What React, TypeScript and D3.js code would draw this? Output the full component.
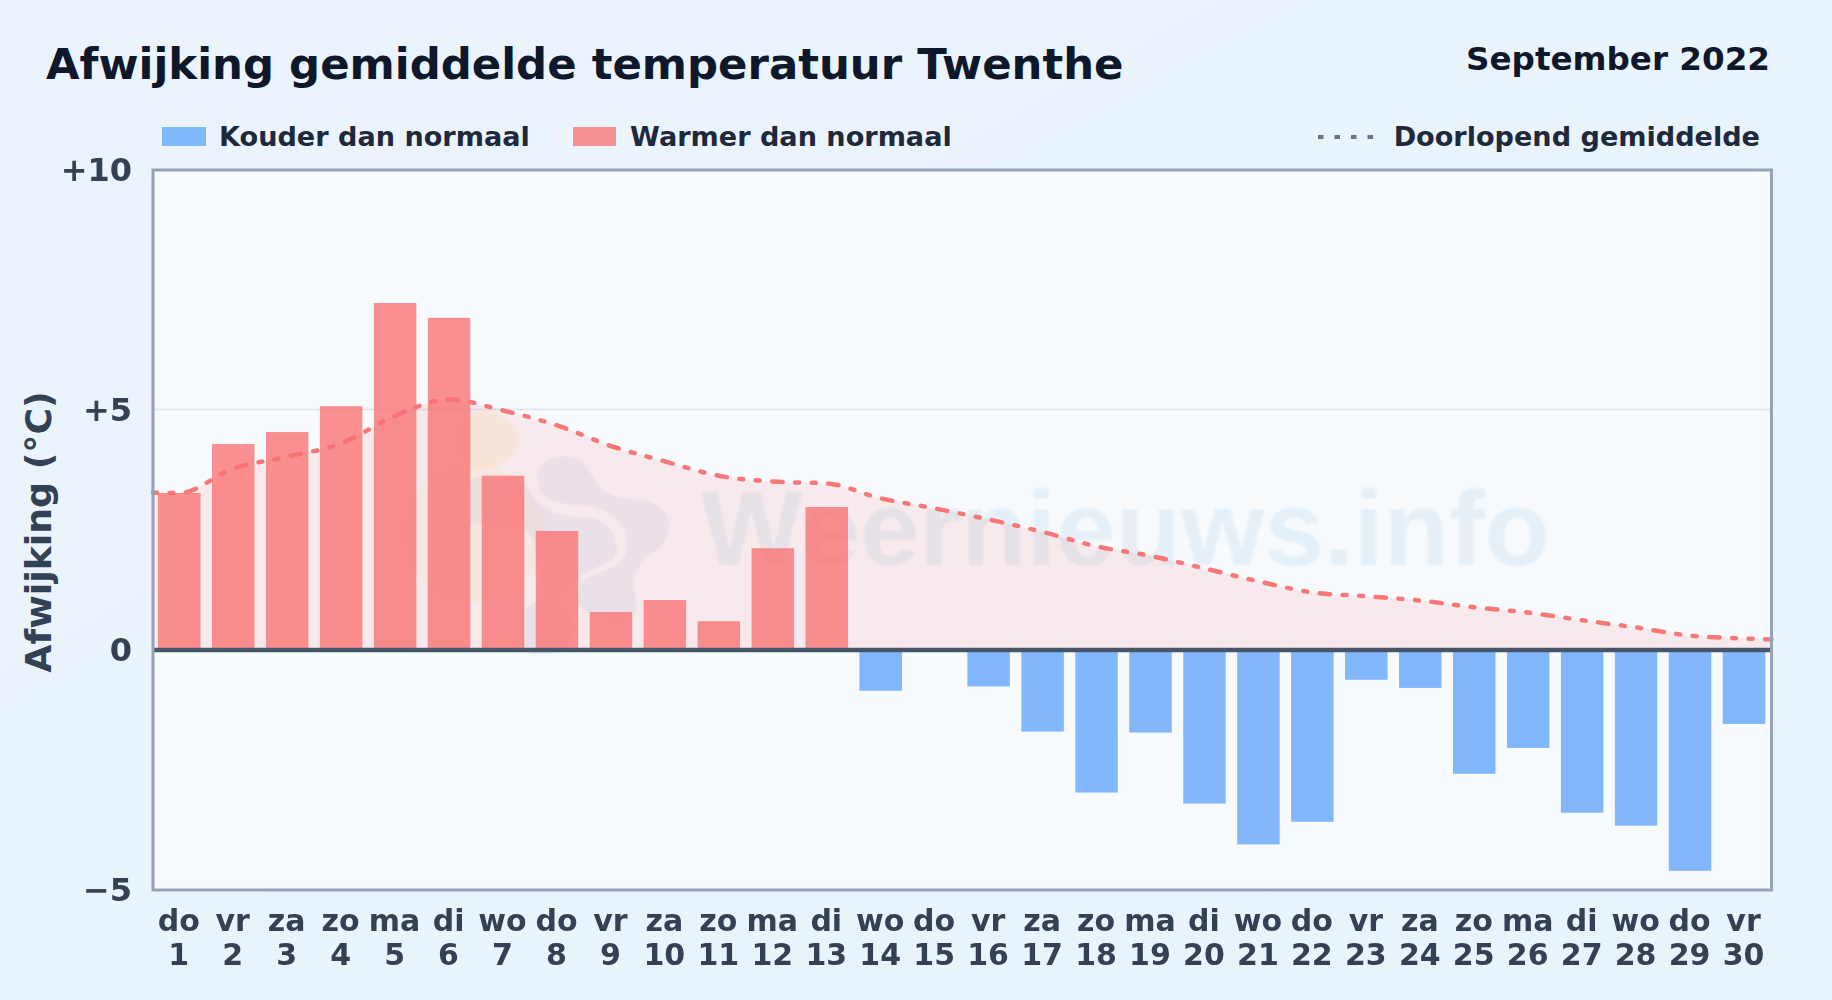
import React from "react";
import * as d3 from "d3";

const title = "Afwijking gemiddelde temperatuur Twenthe";
const period = "September 2022";
const yLabel = "Afwijking (°C)";
const legendCold = "Kouder dan normaal";
const legendWarm = "Warmer dan normaal";
const legendMean = "Doorlopend gemiddelde";
const watermark = "Weernieuws.info";

const days = d3.range(1, 31);
const weekdays = ["do","vr","za","zo","ma","di","wo","do","vr","za","zo","ma","di","wo","do","vr","za","zo","ma","di","wo","do","vr","za","zo","ma","di","wo","do","vr"];
const deviation = [3.27,4.29,4.54,5.08,7.23,6.92,3.63,2.48,0.79,1.04,0.6,2.12,2.98,-0.85,0,-0.76,-1.7,-2.97,-1.72,-3.2,-4.05,-3.58,-0.62,-0.79,-2.58,-2.04,-3.39,-3.66,-4.6,-1.54];
const runningMean = [3.27,3.78,4.03,4.3,4.88,5.22,4.99,4.68,4.25,3.93,3.63,3.51,3.47,3.16,2.95,2.72,2.46,2.16,1.96,1.7,1.43,1.2,1.12,1.03,0.89,0.78,0.62,0.47,0.3,0.24];
const meanStart = 3.28;
const meanEnd = 0.22;
const yTicks = [10, 5, 0, -5];
const yTickLabels = ["+10", "+5", "0", "−5"];

const W = 1832, H = 1000;
const L = 153, R = 1771.5, T = 170, B = 890;
const font = "'DejaVu Sans', sans-serif";
const ink = "#0f172a", axisInk = "#334155", legendInk = "#1e293b";
const red = "#f87171", blue = "#60a5fa";

export default function App() {
  const x = d3.scaleBand<number>().domain(days).range([152.3, 1771]);
  const y = d3.scaleLinear().domain([-5, 10]).range([B, T]);
  const cx = (d: number) => x(d)! + x.bandwidth() / 2;
  const barW = 42.5;

  const linePts: [number, number][] = [
    [L, meanStart],
    ...days.map((d, i) => [cx(d), runningMean[i]] as [number, number]),
    [R, meanEnd],
  ];
  const line = d3.line<[number, number]>().x((d) => d[0]).y((d) => y(d[1])).curve(d3.curveMonotoneX);
  const area = d3.area<[number, number]>().x((d) => d[0]).y0(y(0)).y1((d) => y(d[1])).curve(d3.curveMonotoneX);

  return (
    <svg width={W} height={H} viewBox={`0 0 ${W} ${H}`} style={{ position: "absolute", left: 0, top: 0, display: "block" }} fontFamily={font}>
      <defs>
        <linearGradient id="page" x1="0" y1="0" x2="1" y2="1">
          <stop offset="0" stopColor="#ebf4fc" />
          <stop offset="1" stopColor="#e8f3fc" />
        </linearGradient>
        <filter id="soft" x="-10%" y="-10%" width="120%" height="120%">
          <feGaussianBlur stdDeviation="1.2" />
        </filter>
      </defs>
      <rect width={W} height={H} fill="url(#page)" />

      <text x={46} y={79} fontSize={43.4} fontWeight={700} fill={ink}>{title}</text>
      <text x={1770} y={70} fontSize={32.6} fontWeight={700} fill={ink} textAnchor="end">{period}</text>

      <rect x={162} y={127} width={44} height={19} fill={blue} opacity={0.78} />
      <text x={219} y={146} fontSize={27.1} fontWeight={700} fill={legendInk}>{legendCold}</text>
      <rect x={573} y={127} width={43} height={19} fill={red} opacity={0.76} />
      <text x={630} y={146} fontSize={27.1} fontWeight={700} fill={legendInk}>{legendWarm}</text>
      <line x1={1318} x2={1375} y1={137} y2={137} stroke="#64748b" strokeWidth={4} strokeDasharray="5.5 11" />
      <text x={1760} y={146} fontSize={27.1} fontWeight={700} fill={legendInk} textAnchor="end">{legendMean}</text>

      <rect x={L} y={T} width={R - L} height={B - T} fill="#f8fbfe" />

      {/* watermark */}
      <g filter="url(#soft)">
        <g transform="translate(340,390) scale(0.3333)">
          <ellipse cx={440} cy={150} rx={92} ry={85} fill="#fbbf24" opacity={0.09} />
          <circle cx={400} cy={430} r={210} fill="#fbbf24" opacity={0.06} />
          <path d="M590,260 C590,210 650,195 690,200 C740,205 750,260 790,300 C830,330 900,320 950,345 C1000,375 1000,430 960,470 C920,500 890,530 880,570 C880,620 900,640 880,680 C860,710 780,700 740,670 C710,640 700,600 730,570 C770,540 860,540 860,470 C860,400 830,370 760,350 C700,340 620,350 600,300 Z" fill="#5b78c0" opacity={0.085} />
          <path d="M390,270 C430,245 540,250 560,290 C590,350 650,380 720,380 C790,380 830,420 830,480 C830,520 760,530 720,560 C690,580 690,600 680,620 L610,620 C600,500 590,420 520,400 L390,400 Z" fill="#5b78c0" opacity={0.085} />
          <path d="M600,630 C680,610 700,660 700,720 C690,790 620,800 580,795 C540,790 520,700 560,650 Z" fill="#5b78c0" opacity={0.085} />
        </g>
        <text x={701} y={565} fontFamily="'Liberation Sans', Arial, sans-serif" fontWeight={700} fontSize={106} fill="#3b8ac4" opacity={0.1} textLength={849} lengthAdjust="spacingAndGlyphs">{watermark}</text>
      </g>

      {/* grid */}
      <line x1={L} x2={R} y1={y(5) - 0.6} y2={y(5) - 0.6} stroke="#e0e8ec" strokeWidth={2} />

      {/* running mean area */}
      <path d={area(linePts)!} fill={red} opacity={0.12} />

      {/* bars */}
      {days.map((d, i) => {
        const v = deviation[i];
        if (v === 0) return null;
        const y0 = y(0), y1 = y(v);
        return (
          <rect
            key={d}
            x={cx(d) - barW / 2}
            y={Math.min(y0, y1)}
            width={barW}
            height={Math.abs(y1 - y0)}
            fill={v > 0 ? red : blue}
            opacity={v > 0 ? 0.78 : 0.78}
          />
        );
      })}

      {/* mean line */}
      <path d={line(linePts)!} fill="none" stroke={red} strokeWidth={4.5} strokeLinecap="round" strokeDasharray="4 12.5 4 12.5 10.5 12.5" opacity={0.95} />

      {/* zero line and frame */}
      <line x1={L} x2={R} y1={y(0)} y2={y(0)} stroke="#475569" strokeWidth={4.5} />
      <rect x={L} y={T} width={R - L} height={B - T} fill="none" stroke="#94a3b8" strokeWidth={3} />

      {/* y axis */}
      {yTicks.map((t, i) => (
        <text key={t} x={132} y={y(t) + 11} fontSize={32} fontWeight={700} fill={axisInk} textAnchor="end">{yTickLabels[i]}</text>
      ))}
      <text transform="translate(51,532) rotate(-90)" fontSize={36.3} fontWeight={700} fill={axisInk} textAnchor="middle">{yLabel}</text>

      {/* x axis */}
      {days.map((d, i) => (
        <g key={d} fontSize={30} fontWeight={700} fill={axisInk} textAnchor="middle">
          <text x={cx(d) - 0.5} y={931}>{weekdays[i]}</text>
          <text x={cx(d) - 0.5} y={965}>{d}</text>
        </g>
      ))}
    </svg>
  );
}
